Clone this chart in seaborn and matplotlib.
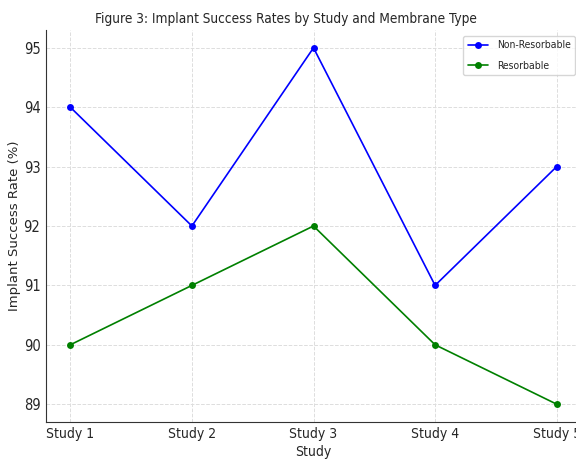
import pandas as pd
import matplotlib.pyplot as plt
import seaborn as sns

studies = ['Study 1', 'Study 2', 'Study 3', 'Study 4', 'Study 5']
non_resorbable = [94, 92, 95, 91, 93]
resorbable = [90, 91, 92, 90, 89]

df = pd.DataFrame({
    'Study': studies * 2,
    'rate': non_resorbable + resorbable,
    'Membrane': ['Non-Resorbable'] * 5 + ['Resorbable'] * 5,
})

sns.set_style('white')
plt.rcParams['font.family'] = ['DejaVu Sans']
plt.rcParams['font.stretch'] = 'condensed'

fig = plt.figure(figsize=(5.76, 4.61), dpi=100)
ax = fig.add_axes([46 / 576, 39 / 461, 535 / 576, 392 / 461])

sns.lineplot(data=df, x='Study', y='rate', hue='Membrane',
             palette=['blue', 'green'], marker='o', markersize=5,
             markeredgewidth=0, linewidth=1.2, ax=ax)

ax.grid(True, linestyle='--', color='#dddddd', linewidth=0.7)
sns.despine(ax=ax)
for s in ['left', 'bottom']:
    ax.spines[s].set_color('#333333')
ax.tick_params(axis='y', length=2.5, pad=1.5, labelsize=10.5, color='#333333')
ax.tick_params(axis='x', length=2, pad=1.5, labelsize=10, color='#333333')

ax.set_title('Figure 3: Implant Success Rates by Study and Membrane Type',
             fontsize=9.8, pad=5, x=(286 - 46) / 535)
ax.set_xlabel('Study', fontsize=10, labelpad=3)
ax.set_ylabel('Implant Success Rate (%)', fontsize=9.5, fontstretch='normal', labelpad=2)
ax.legend(loc='upper right', fontsize=7.5, labelspacing=1.0, frameon=True,
          borderaxespad=0.6)

fig.savefig('out.png', dpi=100)
